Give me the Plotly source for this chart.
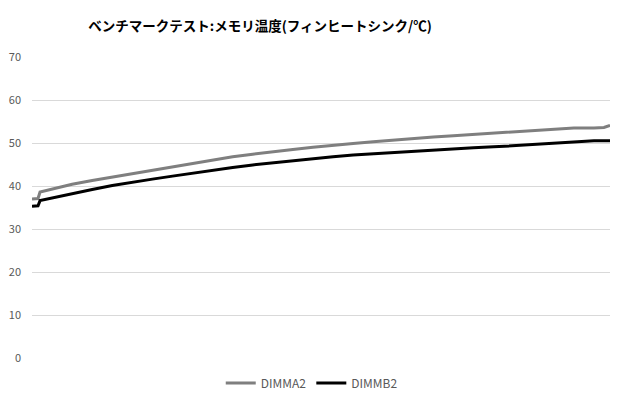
import plotly.graph_objects as go

title = "ベンチマークテスト:メモリ温度(フィンヒートシンク/℃)"

# sample time (seconds) and temperatures
seconds = [0, 6, 8, 20, 40, 60, 80, 100, 120, 140, 160, 180, 200, 220, 240,
           260, 280, 300, 320, 340, 360, 380, 400, 420, 440, 460, 480, 500,
           520, 540, 560, 570, 576]
dimma2 = [37.0, 37.1, 38.6, 39.3, 40.4, 41.3, 42.1, 42.9, 43.7, 44.5, 45.3,
          46.1, 46.8, 47.4, 48.0, 48.5, 49.0, 49.5, 49.9, 50.3, 50.7, 51.0,
          51.4, 51.7, 52.0, 52.3, 52.6, 52.9, 53.3, 53.5, 53.5, 53.6, 54.1]
dimmb2 = [35.3, 35.4, 36.6, 37.2, 38.3, 39.2, 40.1, 40.9, 41.6, 42.3, 43.0,
          43.6, 44.3, 44.9, 45.4, 45.9, 46.4, 46.8, 47.2, 47.5, 47.8, 48.0,
          48.3, 48.6, 48.9, 49.1, 49.4, 49.7, 50.0, 50.2, 50.5, 50.5, 50.5]
y_ticks = [0, 10, 20, 30, 40, 50, 60, 70]

fig = go.Figure()
fig.add_trace(go.Scatter(x=seconds, y=dimma2, name="DIMMA2", mode="lines",
                         line=dict(color="#7f7f7f", width=3)))
fig.add_trace(go.Scatter(x=seconds, y=dimmb2, name="DIMMB2", mode="lines",
                         line=dict(color="#000000", width=3)))

# page body has an 8px margin, so the figure is a bit smaller than the window
fig.update_layout(
    width=612, height=392,
    margin=dict(l=24, r=10, t=49, b=42, autoexpand=False),
    paper_bgcolor="white", plot_bgcolor="white",
    font=dict(family="Noto Sans CJK JP, sans-serif", color="#595959", size=11),
    title=dict(text="<b>" + title + "</b>", x=0.412, xanchor="center",
               y=0.954, yanchor="middle",
               font=dict(size=13.5, color="#000000")),
    showlegend=True,
    legend=dict(orientation="h", x=0.484, xanchor="center", y=-0.083,
                yanchor="middle", font=dict(size=12, color="#595959"),
                itemwidth=30, tracegroupgap=0),
)
fig.update_xaxes(range=[0, 576], showticklabels=False, showgrid=False,
                 zeroline=False, showline=False, ticks="")
fig.update_yaxes(range=[0, 70], tickvals=y_ticks, showgrid=True,
                 gridcolor="#d9d9d9", gridwidth=1, zeroline=False,
                 showline=False, ticks="", ticklabelstandoff=10)

fig.write_html("out.html")
